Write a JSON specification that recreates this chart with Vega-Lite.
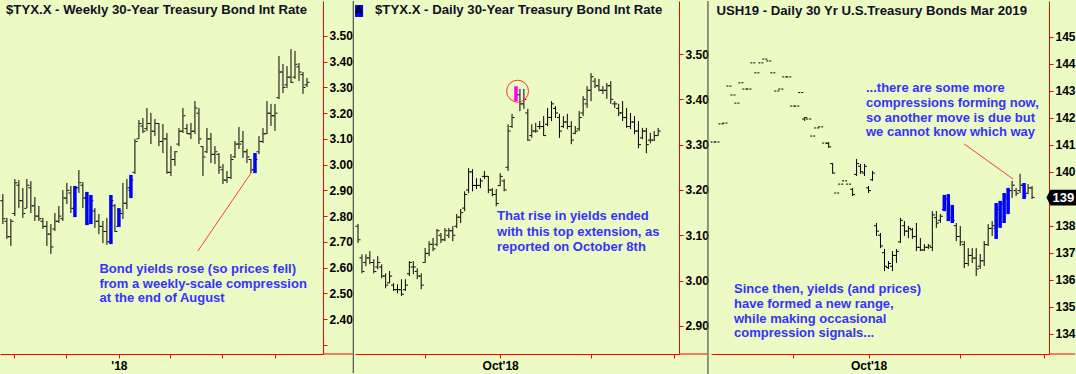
{
"$schema":"https://vega.github.io/schema/vega-lite/v6.json",
"padding":0,
"background":"#ECFAC4",
"spacing":0,
"config":{
 "view":{"stroke":null},
 "font":"Liberation Sans",
 "axis":{"grid":false,"domainColor":"#FF0000","tickColor":"#FF0000","tickSize":4,"labelPadding":2,"labelFont":"Liberation Sans","labelFontSize":12,"labelFontWeight":"bold","labelColor":"#000000","labelOverlap":false,"labelFlush":false,"domainWidth":1,"tickWidth":1,"title":null},
 "title":{"anchor":"start","offset":-17,"baseline":"middle","fontSize":13.2,"fontWeight":"bold","font":"Liberation Sans","color":"#111122"}
},
"datasets":{
"wk":[
{"d":"2017-06-12","o":2.86,"h":2.886,"l":2.769,"c":2.79},
{"d":"2017-06-19","o":2.78,"h":2.793,"l":2.711,"c":2.72},
{"d":"2017-06-26","o":2.72,"h":2.789,"l":2.684,"c":2.78},
{"d":"2017-07-03","o":2.81,"h":2.944,"l":2.800,"c":2.93},
{"d":"2017-07-10","o":2.92,"h":2.940,"l":2.831,"c":2.86},
{"d":"2017-07-17","o":2.86,"h":2.909,"l":2.793,"c":2.81},
{"d":"2017-07-24","o":2.83,"h":2.944,"l":2.831,"c":2.92},
{"d":"2017-07-31","o":2.91,"h":2.936,"l":2.812,"c":2.84},
{"d":"2017-08-07","o":2.84,"h":2.874,"l":2.781,"c":2.80},
{"d":"2017-08-14","o":2.80,"h":2.839,"l":2.781,"c":2.79},
{"d":"2017-08-21","o":2.78,"h":2.793,"l":2.750,"c":2.76},
{"d":"2017-08-28","o":2.76,"h":2.781,"l":2.684,"c":2.73},
{"d":"2017-09-04","o":2.73,"h":2.769,"l":2.653,"c":2.68},
{"d":"2017-09-11","o":2.75,"h":2.812,"l":2.742,"c":2.78},
{"d":"2017-09-18","o":2.78,"h":2.839,"l":2.773,"c":2.80},
{"d":"2017-09-25","o":2.79,"h":2.901,"l":2.781,"c":2.87},
{"d":"2017-10-02","o":2.87,"h":2.929,"l":2.847,"c":2.90},
{"d":"2017-10-09","o":2.89,"h":2.917,"l":2.812,"c":2.83},
{"d":"2017-10-16","o":2.83,"h":2.917,"l":2.796,"c":2.91,"sig":"c"},
{"d":"2017-10-23","o":2.91,"h":2.979,"l":2.890,"c":2.93},
{"d":"2017-10-30","o":2.92,"h":2.932,"l":2.831,"c":2.87},
{"d":"2017-11-06","o":2.87,"h":2.894,"l":2.765,"c":2.77,"sig":"c"},
{"d":"2017-11-13","o":2.78,"h":2.882,"l":2.769,"c":2.86,"sig":"c"},
{"d":"2017-11-20","o":2.82,"h":2.831,"l":2.754,"c":2.78},
{"d":"2017-11-27","o":2.78,"h":2.808,"l":2.730,"c":2.76},
{"d":"2017-12-04","o":2.76,"h":2.781,"l":2.695,"c":2.74},
{"d":"2017-12-11","o":2.74,"h":2.793,"l":2.688,"c":2.70},
{"d":"2017-12-18","o":2.70,"h":2.882,"l":2.691,"c":2.86,"sig":"c"},
{"d":"2017-12-25","o":2.84,"h":2.847,"l":2.738,"c":2.74},
{"d":"2018-01-01","o":2.76,"h":2.831,"l":2.758,"c":2.82,"sig":"c"},
{"d":"2018-01-08","o":2.81,"h":2.929,"l":2.789,"c":2.85},
{"d":"2018-01-15","o":2.85,"h":2.944,"l":2.827,"c":2.91},
{"d":"2018-01-22","o":2.90,"h":2.960,"l":2.870,"c":2.94,"sig":"c"},
{"d":"2018-01-29","o":2.97,"h":3.100,"l":2.964,"c":3.09},
{"d":"2018-02-05","o":3.10,"h":3.173,"l":3.100,"c":3.16},
{"d":"2018-02-12","o":3.15,"h":3.181,"l":3.123,"c":3.13},
{"d":"2018-02-19","o":3.14,"h":3.220,"l":3.131,"c":3.16},
{"d":"2018-02-26","o":3.16,"h":3.201,"l":3.080,"c":3.13},
{"d":"2018-03-05","o":3.13,"h":3.177,"l":3.111,"c":3.16},
{"d":"2018-03-12","o":3.16,"h":3.162,"l":3.072,"c":3.09},
{"d":"2018-03-19","o":3.09,"h":3.158,"l":3.045,"c":3.10},
{"d":"2018-03-26","o":3.10,"h":3.123,"l":2.964,"c":2.97},
{"d":"2018-04-02","o":2.97,"h":3.072,"l":2.956,"c":3.02},
{"d":"2018-04-09","o":3.02,"h":3.053,"l":2.995,"c":3.05},
{"d":"2018-04-16","o":3.08,"h":3.142,"l":3.072,"c":3.13},
{"d":"2018-04-23","o":3.13,"h":3.220,"l":3.123,"c":3.19},
{"d":"2018-04-30","o":3.14,"h":3.158,"l":3.119,"c":3.12},
{"d":"2018-05-07","o":3.12,"h":3.162,"l":3.100,"c":3.13},
{"d":"2018-05-14","o":3.13,"h":3.247,"l":3.119,"c":3.22},
{"d":"2018-05-21","o":3.20,"h":3.220,"l":3.080,"c":3.10},
{"d":"2018-05-28","o":3.07,"h":3.072,"l":2.956,"c":3.03},
{"d":"2018-06-04","o":3.05,"h":3.142,"l":3.045,"c":3.10},
{"d":"2018-06-11","o":3.10,"h":3.123,"l":3.006,"c":3.04},
{"d":"2018-06-18","o":3.04,"h":3.072,"l":3.002,"c":3.05},
{"d":"2018-06-25","o":3.04,"h":3.045,"l":2.964,"c":2.99},
{"d":"2018-07-02","o":2.98,"h":3.002,"l":2.925,"c":2.94},
{"d":"2018-07-09","o":2.94,"h":2.975,"l":2.929,"c":2.95},
{"d":"2018-07-16","o":2.95,"h":3.041,"l":2.944,"c":3.02},
{"d":"2018-07-23","o":3.03,"h":3.092,"l":3.026,"c":3.08},
{"d":"2018-07-30","o":3.08,"h":3.146,"l":3.061,"c":3.08},
{"d":"2018-08-06","o":3.09,"h":3.131,"l":3.026,"c":3.05},
{"d":"2018-08-13","o":3.05,"h":3.061,"l":3.006,"c":3.03},
{"d":"2018-08-20","o":3.02,"h":3.022,"l":2.967,"c":2.98},
{"d":"2018-08-27","o":2.98,"h":3.045,"l":2.967,"c":3.02,"sig":"c"},
{"d":"2018-09-03","o":3.05,"h":3.111,"l":3.041,"c":3.09},
{"d":"2018-09-10","o":3.09,"h":3.142,"l":3.084,"c":3.12},
{"d":"2018-09-17","o":3.12,"h":3.247,"l":3.119,"c":3.20},
{"d":"2018-09-24","o":3.20,"h":3.236,"l":3.150,"c":3.19},
{"d":"2018-10-01","o":3.19,"h":3.236,"l":3.131,"c":3.20},
{"d":"2018-10-08","o":3.26,"h":3.422,"l":3.255,"c":3.36},
{"d":"2018-10-15","o":3.36,"h":3.391,"l":3.278,"c":3.30},
{"d":"2018-10-22","o":3.31,"h":3.383,"l":3.298,"c":3.34},
{"d":"2018-10-29","o":3.34,"h":3.449,"l":3.317,"c":3.32},
{"d":"2018-11-05","o":3.34,"h":3.442,"l":3.333,"c":3.39},
{"d":"2018-11-12","o":3.38,"h":3.395,"l":3.325,"c":3.36},
{"d":"2018-11-19","o":3.35,"h":3.360,"l":3.275,"c":3.30},
{"d":"2018-11-26","o":3.31,"h":3.337,"l":3.302,"c":3.32}
],
"dly":[
{"o":3.12,"h":3.125,"l":3.083,"c":3.09},
{"o":3.05,"h":3.058,"l":3.016,"c":3.02},
{"o":3.04,"h":3.058,"l":3.032,"c":3.05},
{"o":3.05,"h":3.065,"l":3.036,"c":3.04},
{"o":3.04,"h":3.047,"l":3.016,"c":3.02},
{"o":3.03,"h":3.054,"l":3.025,"c":3.04},
{"o":3.03,"h":3.036,"l":3.005,"c":3.01},
{"o":3.01,"h":3.016,"l":2.983,"c":2.99},
{"o":2.995,"h":3.021,"l":2.994,"c":3.01},
{"o":2.99,"h":2.994,"l":2.977,"c":2.98},
{"o":2.98,"h":2.992,"l":2.972,"c":2.98},
{"o":2.98,"h":3.003,"l":2.966,"c":2.97},
{"o":2.98,"h":3.003,"l":2.977,"c":2.99},
{"o":3.015,"h":3.043,"l":3.010,"c":3.04},
{"o":3.03,"h":3.043,"l":3.014,"c":3.03},
{"o":3.02,"h":3.027,"l":3.003,"c":3.01},
{"o":3.01,"h":3.016,"l":2.981,"c":2.99},
{"o":3.04,"h":3.072,"l":3.039,"c":3.06},
{"o":3.06,"h":3.087,"l":3.054,"c":3.08},
{"o":3.08,"h":3.094,"l":3.065,"c":3.07},
{"o":3.08,"h":3.114,"l":3.076,"c":3.11},
{"o":3.10,"h":3.105,"l":3.083,"c":3.09},
{"o":3.09,"h":3.116,"l":3.087,"c":3.11},
{"o":3.10,"h":3.116,"l":3.094,"c":3.11},
{"o":3.11,"h":3.120,"l":3.087,"c":3.10},
{"o":3.12,"h":3.147,"l":3.116,"c":3.14},
{"o":3.14,"h":3.158,"l":3.127,"c":3.15},
{"o":3.16,"h":3.197,"l":3.153,"c":3.19},
{"o":3.20,"h":3.248,"l":3.193,"c":3.24},
{"o":3.24,"h":3.246,"l":3.197,"c":3.21},
{"o":3.21,"h":3.226,"l":3.202,"c":3.21},
{"o":3.21,"h":3.226,"l":3.204,"c":3.22},
{"o":3.23,"h":3.242,"l":3.224,"c":3.23},
{"o":3.23,"h":3.231,"l":3.193,"c":3.20},
{"o":3.20,"h":3.204,"l":3.186,"c":3.19},
{"o":3.19,"h":3.202,"l":3.164,"c":3.17},
{"o":3.21,"h":3.237,"l":3.208,"c":3.23},
{"o":3.22,"h":3.224,"l":3.197,"c":3.20},
{"o":3.25,"h":3.345,"l":3.242,"c":3.33},
{"o":3.34,"h":3.368,"l":3.337,"c":3.36},
{"o":3.40,"h":3.429,"l":3.396,"c":3.42,"sig":"x"},
{"o":3.41,"h":3.423,"l":3.374,"c":3.39},
{"o":3.39,"h":3.423,"l":3.379,"c":3.40},
{"o":3.37,"h":3.379,"l":3.308,"c":3.31},
{"o":3.32,"h":3.345,"l":3.315,"c":3.33},
{"o":3.33,"h":3.348,"l":3.326,"c":3.33},
{"o":3.34,"h":3.352,"l":3.334,"c":3.34},
{"o":3.34,"h":3.363,"l":3.319,"c":3.32},
{"o":3.345,"h":3.381,"l":3.341,"c":3.36},
{"o":3.36,"h":3.396,"l":3.352,"c":3.39},
{"o":3.38,"h":3.385,"l":3.359,"c":3.37},
{"o":3.36,"h":3.368,"l":3.315,"c":3.33},
{"o":3.34,"h":3.363,"l":3.337,"c":3.35},
{"o":3.35,"h":3.368,"l":3.334,"c":3.34},
{"o":3.34,"h":3.352,"l":3.301,"c":3.31},
{"o":3.325,"h":3.341,"l":3.323,"c":3.33},
{"o":3.335,"h":3.374,"l":3.330,"c":3.36},
{"o":3.37,"h":3.407,"l":3.363,"c":3.40},
{"o":3.39,"h":3.429,"l":3.381,"c":3.42},
{"o":3.42,"h":3.458,"l":3.396,"c":3.45},
{"o":3.44,"h":3.447,"l":3.425,"c":3.43},
{"o":3.43,"h":3.445,"l":3.418,"c":3.42},
{"o":3.42,"h":3.429,"l":3.412,"c":3.42},
{"o":3.42,"h":3.436,"l":3.401,"c":3.43},
{"o":3.43,"h":3.440,"l":3.390,"c":3.40},
{"o":3.39,"h":3.396,"l":3.381,"c":3.39},
{"o":3.38,"h":3.390,"l":3.363,"c":3.37},
{"o":3.37,"h":3.396,"l":3.352,"c":3.36},
{"o":3.36,"h":3.381,"l":3.337,"c":3.34},
{"o":3.34,"h":3.370,"l":3.334,"c":3.35},
{"o":3.35,"h":3.363,"l":3.323,"c":3.33},
{"o":3.33,"h":3.352,"l":3.292,"c":3.30},
{"o":3.315,"h":3.337,"l":3.312,"c":3.33},
{"o":3.33,"h":3.337,"l":3.281,"c":3.30},
{"o":3.31,"h":3.326,"l":3.303,"c":3.31},
{"o":3.31,"h":3.330,"l":3.308,"c":3.32},
{"o":3.32,"h":3.337,"l":3.319,"c":3.33}
],
"fut":[
{"o":141.10,"h":141.10,"l":141.10,"c":141.10},
{"o":141.10,"h":141.10,"l":141.10,"c":141.10},
{"o":141.77,"h":141.77,"l":141.77,"c":141.77},
{"o":141.80,"h":141.80,"l":141.80,"c":141.80},
{"o":143.17,"h":143.17,"l":143.17,"c":143.17},
{"o":142.84,"h":142.84,"l":142.84,"c":142.84},
{"o":142.54,"h":142.54,"l":142.54,"c":142.54},
{"o":143.29,"h":143.29,"l":143.29,"c":143.29},
{"o":143.06,"h":143.06,"l":143.06,"c":143.06},
{"o":143.06,"h":143.06,"l":143.06,"c":143.06},
{"o":144.03,"h":144.03,"l":144.03,"c":144.03},
{"o":143.66,"h":143.66,"l":143.66,"c":143.66},
{"o":144.03,"h":144.03,"l":144.03,"c":144.03},
{"o":144.17,"h":144.17,"l":144.17,"c":144.17},
{"o":144.10,"h":144.10,"l":144.10,"c":144.10},
{"o":143.66,"h":143.66,"l":143.66,"c":143.66},
{"o":142.99,"h":142.99,"l":142.99,"c":142.99},
{"o":143.06,"h":143.06,"l":143.06,"c":143.06},
{"o":143.51,"h":143.51,"l":143.51,"c":143.51},
{"o":143.51,"h":143.51,"l":143.51,"c":143.51},
{"o":142.43,"h":142.43,"l":142.43,"c":142.43},
{"o":142.43,"h":142.43,"l":142.43,"c":142.43},
{"o":142.93,"h":142.93,"l":142.93,"c":142.93},
{"o":141.95,"h":142.03,"l":141.88,"c":142.00},
{"o":141.95,"h":141.95,"l":141.95,"c":141.95},
{"o":141.32,"h":141.32,"l":141.32,"c":141.32},
{"o":141.62,"h":141.62,"l":141.62,"c":141.62},
{"o":141.66,"h":141.66,"l":141.66,"c":141.66},
{"o":141.06,"h":141.06,"l":141.06,"c":141.06},
{"o":141.05,"h":141.10,"l":140.88,"c":140.92},
{"o":140.30,"h":140.32,"l":139.92,"c":139.95},
{"o":139.21,"h":139.21,"l":139.21,"c":139.21},
{"o":139.54,"h":139.54,"l":139.54,"c":139.54},
{"o":139.66,"h":139.66,"l":139.66,"c":139.66},
{"o":139.54,"h":139.54,"l":139.54,"c":139.54},
{"o":139.35,"h":139.40,"l":139.10,"c":139.15},
{"o":139.90,"h":140.47,"l":139.84,"c":140.30},
{"o":140.20,"h":140.29,"l":139.92,"c":140.00},
{"o":139.95,"h":140.29,"l":139.84,"c":140.20},
{"o":139.40,"h":139.47,"l":139.21,"c":139.30},
{"o":139.70,"h":140.03,"l":139.66,"c":139.95},
{"o":138.00,"h":138.10,"l":137.62,"c":137.80},
{"o":137.65,"h":137.73,"l":137.17,"c":137.25},
{"o":137.00,"h":137.14,"l":136.32,"c":136.50},
{"o":136.45,"h":136.69,"l":136.40,"c":136.60},
{"o":136.50,"h":137.06,"l":136.32,"c":136.90},
{"o":136.90,"h":137.14,"l":136.62,"c":137.05},
{"o":137.40,"h":138.29,"l":137.36,"c":138.20},
{"o":138.00,"h":138.17,"l":137.62,"c":137.80},
{"o":137.80,"h":137.99,"l":137.54,"c":137.90},
{"o":137.85,"h":137.92,"l":137.51,"c":137.60},
{"o":137.60,"h":138.10,"l":137.06,"c":137.20},
{"o":137.20,"h":137.54,"l":137.06,"c":137.10},
{"o":137.10,"h":137.32,"l":137.06,"c":137.20},
{"o":137.20,"h":137.32,"l":137.14,"c":137.25},
{"o":137.20,"h":138.54,"l":137.06,"c":138.40},
{"o":138.30,"h":138.54,"l":137.92,"c":138.10},
{"o":138.20,"h":138.43,"l":138.10,"c":138.35},
{"o":138.60,"h":139.14,"l":138.54,"c":139.00,"sig":"c"},
{"o":139.00,"h":139.17,"l":138.17,"c":138.30,"sig":"c"},
{"o":138.30,"h":138.77,"l":138.10,"c":138.20,"sig":"c"},
{"o":138.00,"h":138.10,"l":137.43,"c":137.60},
{"o":137.60,"h":137.99,"l":137.25,"c":137.40},
{"o":137.30,"h":137.43,"l":136.43,"c":136.60},
{"o":136.60,"h":137.17,"l":136.51,"c":136.90},
{"o":136.90,"h":137.17,"l":136.62,"c":136.80},
{"o":136.80,"h":137.17,"l":136.14,"c":136.40},
{"o":136.50,"h":136.95,"l":136.40,"c":136.70},
{"o":136.70,"h":137.43,"l":136.51,"c":137.30},
{"o":137.30,"h":138.06,"l":137.25,"c":137.90},
{"o":137.90,"h":138.17,"l":137.62,"c":138.00},
{"o":137.90,"h":138.84,"l":137.51,"c":138.70,"sig":"c"},
{"o":138.60,"h":138.92,"l":137.92,"c":138.80,"sig":"c"},
{"o":138.80,"h":139.21,"l":138.10,"c":139.10,"sig":"c"},
{"o":139.00,"h":139.40,"l":138.43,"c":139.30,"sig":"c"},
{"o":139.30,"h":139.66,"l":139.03,"c":139.50},
{"o":139.30,"h":139.40,"l":139.10,"c":139.20},
{"o":139.30,"h":139.92,"l":139.21,"c":139.50},
{"o":139.50,"h":139.58,"l":138.99,"c":139.10,"sig":"c"},
{"o":139.20,"h":139.54,"l":139.17,"c":139.40},
{"o":139.40,"h":139.47,"l":138.99,"c":139.05}
]
},
"hconcat":[
{
 "width":323,"height":353,
 "title":{"text":"$TYX.X - Weekly  30-Year Treasury Bond Int Rate","dx":6},
 "encoding":{
  "x":{"type":"temporal","scale":{"domain":[{"year":2017,"month":6,"date":7},{"year":2018,"month":12,"date":24}]},
      "axis":{"values":[{"year":2017,"month":7,"date":1},{"year":2017,"month":10,"date":1},{"year":2018,"month":1,"date":1},{"year":2018,"month":4,"date":1},{"year":2018,"month":7,"date":1},{"year":2018,"month":10,"date":1}],"labelExpr":"month(datum.value) == 0 ? \"'18\" : ''","title":null}},
  "y":{"type":"quantitative","scale":{"domain":[2.264,3.636],"zero":false,"nice":false},
      "axis":{"orient":"right","values":[2.3,2.4,2.5,2.6,2.7,2.8,2.9,3.0,3.1,3.2,3.3,3.4,3.5],"labelExpr":"datum.value < 2.35 ? '' : format(datum.value, '.2f')","title":null,"minExtent":32,"maxExtent":32}}
 },
 "layer":[
  {"data":{"values":[{"d1":"2019-02-15","v1":3.636,"v2":2.19}]},"mark":{"type":"rule","color":"#505050","strokeWidth":1.2,"strokeJoin":"round","strokeCap":"butt"},
   "encoding":{"x":{"field":"d1","type":"temporal"},"y":{"field":"v1","type":"quantitative"},"y2":{"field":"v2"}}},
  {"data":{"values":[{"d1":"2018-12-24","d2":"2019-02-14","v":2.264}]},"mark":{"type":"rule","color":"#FF0000","strokeWidth":1,"strokeJoin":"round","strokeCap":"butt"},
   "encoding":{"x":{"field":"d1","type":"temporal"},"x2":{"field":"d2"},"y":{"field":"v","type":"quantitative"}}},
  {"data":{"name":"wk"},"mark":{"type":"rule"},
   "encoding":{
    "x":{"field":"d","type":"temporal"},
    "y":{"field":"h","type":"quantitative"},
    "y2":{"field":"l"},
    "color":{"condition":[{"test":"datum.sig == 'c'","value":"#0000FF"},{"test":"datum.sig == 'x'","value":"#FF00FF"}],"value":"#000000"},
    "strokeWidth":{"condition":{"test":"isValid(datum.sig)","value":3.5},"value":1}
   }},
  {"data":{"name":"wk"},"mark":{"type":"tick","orient":"horizontal","size":2,"thickness":1,"xOffset":-1.5,"opacity":1},
   "encoding":{
    "x":{"field":"d","type":"temporal"},
    "y":{"field":"o","type":"quantitative"},
    "color":{"condition":[{"test":"datum.sig == 'c'","value":"#0000FF"},{"test":"datum.sig == 'x'","value":"#FF00FF"}],"value":"#000000"}
   }},
  {"data":{"name":"wk"},"mark":{"type":"tick","orient":"horizontal","size":2,"thickness":1,"xOffset":1.5,"opacity":1},
   "encoding":{
    "x":{"field":"d","type":"temporal"},
    "y":{"field":"c","type":"quantitative"},
    "color":{"condition":[{"test":"datum.sig == 'c'","value":"#0000FF"},{"test":"datum.sig == 'x'","value":"#FF00FF"}],"value":"#000000"}
   }},
  {"data":{"values":[{"d1":"2018-05-19","v1":2.664,"d2":"2018-08-20","v2":2.967}]},"mark":{"type":"rule","color":"#FF3C3C","strokeWidth":1},
   "encoding":{
    "x":{"field":"d1","type":"temporal"},
    "y":{"field":"v1","type":"quantitative"},
    "x2":{"field":"d2"},"y2":{"field":"v2"}
   }},
  {"data":{"values":[{"d":"2017-11-28","v":2.579,"t":"Bond yields rose (so prices fell)\nfrom a weekly-scale compression\nat the end of August"}]},
   "mark":{"type":"text","align":"left","baseline":"alphabetic","lineBreak":"\n","lineHeight":14.7,"fontSize":13,"fontWeight":"bold","color":"#3333FF"},
   "encoding":{
    "x":{"field":"d","type":"temporal"},
    "y":{"field":"v","type":"quantitative"},
    "text":{"field":"t"}
   }}
 ]
},
{
 "width":324,"height":353,
 "title":{"text":"$TYX.X - Daily  30-Year Treasury Bond Int Rate","dx":20},
 "encoding":{
  "x":{"type":"quantitative","scale":{"domain":[0.24,82.27],"zero":false,"nice":false},
      "axis":{"values":[18,37,60,81],"labelExpr":"datum.value == 37 ? \"Oct'18\" : ''","title":null}},
  "y":{"type":"quantitative","scale":{"domain":[2.838,3.617],"zero":false,"nice":false},
      "axis":{"orient":"right","values":[2.9,3.0,3.1,3.2,3.3,3.4,3.5],"format":".2f","title":null,"minExtent":31,"maxExtent":31}}
 },
 "layer":[
  {"data":{"values":[{"n":89.6,"v1":3.617,"v2":2.792}]},"mark":{"type":"rule","color":"#505050","strokeWidth":1.2,"strokeJoin":"round","strokeCap":"butt"},
   "encoding":{"x":{"field":"n","type":"quantitative"},"y":{"field":"v1","type":"quantitative"},"y2":{"field":"v2"}}},
  {"data":{"values":[{"n1":82.27,"n2":89.4,"v":2.838}]},"mark":{"type":"rule","color":"#FF0000","strokeWidth":1,"strokeJoin":"round","strokeCap":"butt"},
   "encoding":{"x":{"field":"n1","type":"quantitative"},"x2":{"field":"n2"},"y":{"field":"v","type":"quantitative"}}},
  {"data":{"name":"dly"},"transform":[{"window":[{"op":"row_number","as":"n"}]}],"mark":{"type":"rule"},
   "encoding":{
    "x":{"field":"n","type":"quantitative"},
    "y":{"field":"h","type":"quantitative"},
    "y2":{"field":"l"},
    "color":{"condition":[{"test":"datum.sig == 'c'","value":"#0000FF"},{"test":"datum.sig == 'x'","value":"#FF00FF"}],"value":"#000000"},
    "strokeWidth":{"condition":{"test":"isValid(datum.sig)","value":3.5},"value":1}
   }},
  {"data":{"name":"dly"},"transform":[{"window":[{"op":"row_number","as":"n"}]}],"mark":{"type":"tick","orient":"horizontal","size":2,"thickness":1,"xOffset":-1.5,"opacity":1},
   "encoding":{
    "x":{"field":"n","type":"quantitative"},
    "y":{"field":"o","type":"quantitative"},
    "color":{"condition":[{"test":"datum.sig == 'c'","value":"#0000FF"},{"test":"datum.sig == 'x'","value":"#FF00FF"}],"value":"#000000"}
   }},
  {"data":{"name":"dly"},"transform":[{"window":[{"op":"row_number","as":"n"}]}],"mark":{"type":"tick","orient":"horizontal","size":2,"thickness":1,"xOffset":1.5,"opacity":1},
   "encoding":{
    "x":{"field":"n","type":"quantitative"},
    "y":{"field":"c","type":"quantitative"},
    "color":{"condition":[{"test":"datum.sig == 'c'","value":"#0000FF"},{"test":"datum.sig == 'x'","value":"#FF00FF"}],"value":"#000000"}
   }},
  {"data":{"values":[{"n":41.4,"v":3.418}]},"mark":{"type":"point","shape":"circle","filled":false,"color":"#FF3030","strokeWidth":1,"size":480,"opacity":1},
   "encoding":{
    "x":{"field":"n","type":"quantitative"},
    "y":{"field":"v","type":"quantitative"}
   }},
  {"data":{"values":[{"n":36.2,"v":3.133,"t":"That rise in yields ended\nwith this top extension, as\nreported on October 8th"}]},
   "mark":{"type":"text","align":"left","baseline":"alphabetic","lineBreak":"\n","lineHeight":15.2,"fontSize":13,"fontWeight":"bold","color":"#3333FF"},
   "encoding":{
    "x":{"field":"n","type":"quantitative"},
    "y":{"field":"v","type":"quantitative"},
    "text":{"field":"t"}
   }},
  {"data":{"values":[{"n":1.27,"v":3.595,"t":"A"}]},"mark":{"type":"point","shape":"M-0.67,-1L0.67,-1L0.67,1L-0.67,1Z","size":144,"filled":true,"color":"#0000FF","opacity":1},
   "encoding":{
    "x":{"field":"n","type":"quantitative"},
    "y":{"field":"v","type":"quantitative"}
   }},
  {"data":{"values":[{"n":1.27,"v":3.595,"t":"A"}]},"mark":{"type":"text","align":"center","baseline":"middle","fontSize":11,"fontWeight":"bold","color":"#000000"},
   "encoding":{
    "x":{"field":"n","type":"quantitative"},
    "y":{"field":"v","type":"quantitative"},
    "text":{"field":"t"}
   }}
 ]
},
{
 "width":338,"height":353,
 "title":{"text":"USH19 - Daily  30 Yr U.S.Treasury Bonds Mar 2019","dx":6},
 "encoding":{
  "x":{"type":"quantitative","scale":{"domain":[0.5,85.25],"zero":false,"nice":false},
      "axis":{"values":[21,40,63,84],"labelExpr":"datum.value == 40 ? \"Oct'18\" : ''","title":null}},
  "y":{"type":"quantitative","scale":{"domain":[133.25,146.32],"zero":false,"nice":false},
      "axis":{"orient":"right","values":[134,135,136,137,138,139,140,141,142,143,144,145],"format":"d","labelExpr":"datum.value == 139 ? '' : datum.label","title":null}}
 },
 "layer":[
  {"data":{"values":[{"n1":85.25,"n2":91.8,"v":133.25}]},"mark":{"type":"rule","color":"#FF0000","strokeWidth":1,"strokeJoin":"round","strokeCap":"butt"},
   "encoding":{"x":{"field":"n1","type":"quantitative"},"x2":{"field":"n2"},"y":{"field":"v","type":"quantitative"}}},
  {"data":{"name":"fut"},"transform":[{"window":[{"op":"row_number","as":"n"}]}],"mark":{"type":"rule"},
   "encoding":{
    "x":{"field":"n","type":"quantitative"},
    "y":{"field":"h","type":"quantitative"},
    "y2":{"field":"l"},
    "color":{"condition":[{"test":"datum.sig == 'c'","value":"#0000FF"},{"test":"datum.sig == 'x'","value":"#FF00FF"}],"value":"#000000"},
    "strokeWidth":{"condition":{"test":"isValid(datum.sig)","value":3.5},"value":1}
   }},
  {"data":{"name":"fut"},"transform":[{"window":[{"op":"row_number","as":"n"}]}],"mark":{"type":"tick","orient":"horizontal","size":2,"thickness":1,"xOffset":-1.5,"opacity":1},
   "encoding":{
    "x":{"field":"n","type":"quantitative"},
    "y":{"field":"o","type":"quantitative"},
    "color":{"condition":[{"test":"datum.sig == 'c'","value":"#0000FF"},{"test":"datum.sig == 'x'","value":"#FF00FF"}],"value":"#000000"}
   }},
  {"data":{"name":"fut"},"transform":[{"window":[{"op":"row_number","as":"n"}]}],"mark":{"type":"tick","orient":"horizontal","size":2,"thickness":1,"xOffset":1.5,"opacity":1},
   "encoding":{
    "x":{"field":"n","type":"quantitative"},
    "y":{"field":"c","type":"quantitative"},
    "color":{"condition":[{"test":"datum.sig == 'c'","value":"#0000FF"},{"test":"datum.sig == 'x'","value":"#FF00FF"}],"value":"#000000"}
   }},
  {"data":{"values":[{"n1":63.94,"v1":141.03,"n2":76.23,"v2":139.73}]},"mark":{"type":"rule","color":"#FF3C3C","strokeWidth":1},
   "encoding":{
    "x":{"field":"n1","type":"quantitative"},
    "y":{"field":"v1","type":"quantitative"},
    "x2":{"field":"n2"},"y2":{"field":"v2"}
   }},
  {"data":{"values":[{"n":39.36,"v":142.95,"t":"...there are some more\ncompressions forming now,\nso another move is due but\nwe cannot know which way"},{"n":6.27,"v":135.51,"t":"Since then, yields (and prices)\nhave formed a new range,\nwhile making occasional\ncompression signals..."}]},
   "mark":{"type":"text","align":"left","baseline":"alphabetic","lineBreak":"\n","lineHeight":14.8,"fontSize":13,"fontWeight":"bold","color":"#3333FF"},
   "encoding":{
    "x":{"field":"n","type":"quantitative"},
    "y":{"field":"v","type":"quantitative"},
    "text":{"field":"t"}
   }},
  {"data":{"values":[{"n":88.85,"p":139.04,"t":"139"}]},"mark":{"type":"point","shape":"M-1,-0.6L1,-0.6L1,0.6L-1,0.6L-1.3,0Z","size":676,"filled":true,"color":"#000000","opacity":1},
   "encoding":{
    "x":{"field":"n","type":"quantitative"},
    "y":{"field":"p","type":"quantitative"}
   }},
  {"data":{"values":[{"n":88.85,"p":139.04,"t":"139"}]},"mark":{"type":"text","align":"center","baseline":"middle","fontSize":13,"fontWeight":"bold","color":"#FFFFFF"},
   "encoding":{
    "x":{"field":"n","type":"quantitative"},
    "y":{"field":"p","type":"quantitative"},
    "text":{"field":"t"}
   }}
 ]
}
]
}
